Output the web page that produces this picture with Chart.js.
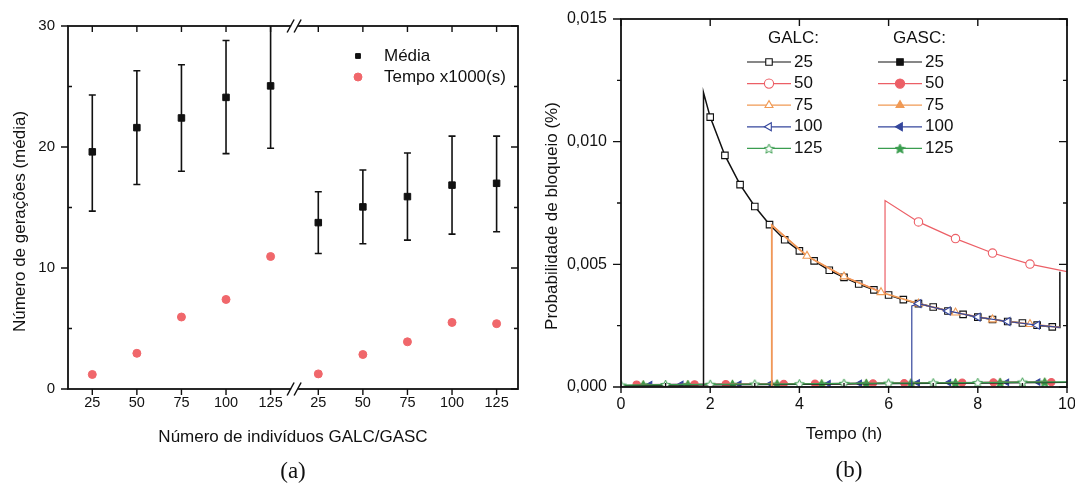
<!DOCTYPE html>
<html lang="pt">
<head>
<meta charset="UTF-8">
<title>GALC / GASC</title>
<script src="https://cdn.jsdelivr.net/npm/chart.js@4.4.1/dist/chart.umd.min.js"></script>
<style>
    body {
        margin: 0;
        width: 1075px;
        height: 486px;
        background: #fff;
        overflow: hidden;
        position: relative;
        font-family: 'Liberation Sans', Arial, sans-serif;
    }
    .panel { position: absolute; top: 0; }
    #boxA { left: 0; }
    #boxB { left: 540px; }
    .tag {
        position: absolute;
        width: 60px;
        text-align: center;
        font-family: 'Liberation Serif', 'Times New Roman', serif;
        font-size: 23px;
        line-height: 26px;
        color: #111;
    }
</style>
</head>
<body>
    <div class="panel" id="boxA"><canvas id="chartA" width="540" height="486"></canvas></div>
    <div class="panel" id="boxB"><canvas id="chartB" width="535" height="486"></canvas></div>
    <div class="tag" style="left:263px; top:458px;">(a)</div>
    <div class="tag" style="left:819px; top:457px;">(b)</div>

<script>
// ---------- painel (a) ----------
const counts = ['25', '50', '75', '100', '125', '25', '50', '75', '100', '125'];
const media = [19.6, 21.6, 22.4, 24.1, 25.05, 13.75, 15.05, 15.9, 16.85, 17.0];
const mediaLow = [14.7, 16.9, 18.0, 19.45, 19.9, 11.2, 12.0, 12.3, 12.8, 13.0];
const mediaHigh = [24.3, 26.3, 26.8, 28.8, 30.6, 16.3, 18.1, 19.5, 20.9, 20.9];
const tempo = [1.2, 2.95, 5.95, 7.4, 10.95, 1.25, 2.85, 3.9, 5.5, 5.4];
const yTicksA = [0, 10, 20, 30];
const yMinorA = [5, 15, 25];

// ---------- painel (b) ----------
const galc25T = [0, 1.85, 1.85, 2.0, 2.33, 2.67, 3.0, 3.33, 3.67, 4.0, 4.33, 4.67, 5.0, 5.33, 5.67, 6.0, 6.33, 6.67, 7.0, 7.33, 7.67, 8.0, 8.33, 8.67, 9.0, 9.33, 9.67, 9.84, 9.84];
const galc25P = [0, 0, 0.0120, 0.0110, 0.00944, 0.00825, 0.00736, 0.00662, 0.0060, 0.00555, 0.00514, 0.00476, 0.00447, 0.0042, 0.00396, 0.00375, 0.00356, 0.0034, 0.00326, 0.0031, 0.00296, 0.00285, 0.00275, 0.00267, 0.00261, 0.00252, 0.00245, 0.00243, 0.0047];
const galc50T = [0, 3.38, 3.38, 4.17, 5.0, 5.92, 5.92, 6.67, 7.5, 8.33, 9.17, 10];
const galc50P = [0, 0, 0.0066, 0.00534, 0.0045, 0.00382, 0.0076, 0.00673, 0.00605, 0.00546, 0.00501, 0.0047];
const galc75T = [0, 3.38, 3.38, 4.17, 5.0, 5.83, 6.67, 7.5, 8.33, 9.17, 9.84];
const galc75P = [0, 0, 0.0066, 0.00534, 0.0045, 0.00386, 0.0034, 0.00303, 0.00275, 0.00256, 0.00243];
const galc100T = [0, 6.52, 6.52, 6.67, 7.33, 8.0, 8.67, 9.33, 9.84];
const galc100P = [0, 0, 0.0033, 0.0034, 0.0031, 0.00285, 0.00267, 0.00252, 0.00243];
const galc125T = [0, 1, 2, 3, 4, 5, 6, 7, 8, 9, 10];
const galc125P = [0.00008, 0.0001, 0.00011, 0.00012, 0.00013, 0.00015, 0.00016, 0.00017, 0.00018, 0.0002, 0.00021];

const gasc25T = [0, 2, 4, 6, 8, 10];
const gasc25P = [0.00006, 0.00009, 0.00011, 0.00014, 0.00016, 0.00019];
const gasc50T = [0.35, 1.65, 2.35, 3.65, 4.35, 5.65, 6.35, 7.65, 8.35, 9.65];
const gasc50P = [0.0001, 0.00011, 0.00012, 0.00013, 0.00014, 0.00015, 0.00016, 0.00018, 0.00019, 0.0002];
const gasc75T = [0.5, 1.5, 2.5, 3.5, 4.5, 5.5, 6.5, 7.5, 8.5, 9.5];
const gasc75P = [0.00009, 0.0001, 0.00011, 0.00012, 0.00013, 0.00015, 0.00016, 0.00017, 0.00019, 0.0002];
const gasc100T = [0.65, 1.35, 2.65, 3.35, 4.65, 5.35, 6.65, 7.35, 8.65, 9.35];
const gasc100P = [0.0001, 0.00011, 0.00012, 0.00013, 0.00014, 0.00015, 0.00017, 0.00018, 0.00019, 0.0002];
const gasc125T = [0.5, 1.5, 2.5, 3.5, 4.5, 5.5, 6.5, 7.5, 8.5, 9.5];
const gasc125P = [0.00009, 0.0001, 0.00011, 0.00012, 0.00013, 0.00015, 0.00016, 0.00017, 0.00019, 0.0002];

const yTicksB = [0, 0.005, 0.010, 0.015];
const yMinorB = [0.0025, 0.0075, 0.0125];
const xTicksB = [0, 2, 4, 6, 8, 10];
const xMinorB = [1, 3, 5, 7, 9];

// posições no eixo x do painel (a): dois grupos separados pela quebra
const xPos = counts.map((c, i) => i < 5 ? i : i + 0.07);
const breakAt = 4.55;

const INK = '#111';
const FONT = "'Liberation Sans', Arial, sans-serif";
const RED = '#ec5f66', ORANGE = '#f09a55', BLUE = '#34469c', GREEN = '#3a9d4f';

Chart.defaults.font.family = FONT;
Chart.defaults.color = INK;

function starImg(filled, color, size) {
    const c = document.createElement('canvas');
    c.width = c.height = size;
    const g = c.getContext('2d');
    const m = size / 2;
    g.beginPath();
    for (let k = 0; k < 10; k++) {
        const r = k % 2 ? m * 0.42 : m * 0.92;
        const a = -Math.PI / 2 + k * Math.PI / 5;
        g.lineTo(m + r * Math.cos(a), m + 0.6 + r * Math.sin(a));
    }
    g.closePath();
    g.fillStyle = filled ? color : '#fff';
    g.fill();
    g.strokeStyle = color;
    g.lineWidth = 1;
    g.stroke();
    return c;
}

// caixa + marcas de escala (len > 0 para fora, < 0 para dentro)
function frameTicks(marks) {
    return {
        id: 'frameTicks',
        afterDraw(chart) {
            const { ctx, chartArea: a } = chart;
            ctx.save();
            ctx.strokeStyle = INK;
            ctx.lineWidth = 1.8;
            ctx.strokeRect(a.left, a.top, a.right - a.left, a.bottom - a.top);
            ctx.lineWidth = 1.4;
            marks.forEach(m => {
                const s = chart.scales[m.scale];
                ctx.beginPath();
                m.values.forEach(v => {
                    const p = s.getPixelForValue(v);
                    if (m.side === 'bottom') { ctx.moveTo(p, a.bottom); ctx.lineTo(p, a.bottom + m.len); }
                    if (m.side === 'top') { ctx.moveTo(p, a.top); ctx.lineTo(p, a.top - m.len); }
                    if (m.side === 'left') { ctx.moveTo(a.left, p); ctx.lineTo(a.left - m.len, p); }
                    if (m.side === 'right') { ctx.moveTo(a.right, p); ctx.lineTo(a.right + m.len, p); }
                });
                ctx.stroke();
            });
            ctx.restore();
        }
    };
}

// título vertical um pouco abaixo do centro, como no original
function yTitle(text, x, shift) {
    return {
        id: 'yTitle',
        afterDraw(chart) {
            const { ctx, chartArea: a } = chart;
            ctx.save();
            ctx.translate(x, (a.top + a.bottom) / 2 + shift);
            ctx.rotate(-Math.PI / 2);
            ctx.font = '17px ' + FONT;
            ctx.fillStyle = INK;
            ctx.textAlign = 'center';
            ctx.textBaseline = 'middle';
            ctx.fillText(text, 0, 0);
            ctx.restore();
        }
    };
}

const errorBars = {
    id: 'errorBars',
    beforeDatasetsDraw(chart) {
        const { ctx, chartArea: a, scales: { x, y } } = chart;
        ctx.save();
        ctx.beginPath();
        ctx.rect(a.left, a.top, a.right - a.left, a.bottom - a.top);
        ctx.clip();
        ctx.strokeStyle = INK;
        ctx.lineWidth = 1.6;
        mediaLow.forEach((lo, i) => {
            const px = x.getPixelForValue(xPos[i]);
            const y0 = y.getPixelForValue(lo);
            const y1 = y.getPixelForValue(mediaHigh[i]);
            ctx.beginPath();
            ctx.moveTo(px, y0); ctx.lineTo(px, y1);
            ctx.moveTo(px - 3.5, y0); ctx.lineTo(px + 3.5, y0);
            ctx.moveTo(px - 3.5, y1); ctx.lineTo(px + 3.5, y1);
            ctx.stroke();
        });
        ctx.restore();
    }
};

const axisBreak = {
    id: 'axisBreak',
    afterDraw(chart) {
        const { ctx, chartArea: a, scales: { x } } = chart;
        const px = x.getPixelForValue(breakAt);
        ctx.save();
        [a.top, a.bottom].forEach(py => {
            ctx.fillStyle = '#fff';
            ctx.fillRect(px - 4, py - 1.5, 7, 3);
            ctx.strokeStyle = INK;
            ctx.lineWidth = 1.5;
            ctx.beginPath();
            ctx.moveTo(px - 8, py + 6.5); ctx.lineTo(px - 1, py - 6.5);
            ctx.moveTo(px - 1, py + 6.5); ctx.lineTo(px + 6, py - 6.5);
            ctx.stroke();
        });
        ctx.restore();
    }
};

const legendA = {
    id: 'legendA',
    afterDraw(chart) {
        const { ctx } = chart;
        ctx.save();
        ctx.font = '17px ' + FONT;
        ctx.textBaseline = 'middle';
        chart.data.datasets.forEach((ds, i) => {
            const y = 56 + i * 21;
            ctx.fillStyle = ds.backgroundColor;
            ctx.strokeStyle = ds.borderColor;
            ctx.lineWidth = 1;
            Chart.helpers.drawPoint(ctx, { pointStyle: ds.pointStyle, rotation: 0, radius: ds.pointStyle === 'rect' ? 3.4 : 4, borderWidth: 1 }, 358, y);
            ctx.fillStyle = INK;
            ctx.fillText(ds.label, 384, y);
        });
        ctx.restore();
    }
};

const legendB = {
    id: 'legendB',
    afterDraw(chart) {
        const { ctx } = chart;
        ctx.save();
        ctx.font = '17px ' + FONT;
        ctx.textBaseline = 'middle';
        ctx.fillStyle = INK;
        ctx.fillText('GALC:', 228, 38);
        ctx.fillText('GASC:', 353, 38);
        chart.data.datasets.forEach((ds, i) => {
            const col = i < 5 ? 0 : 1;
            const row = i % 5;
            const x0 = col ? 338 : 207;
            const y = 62 + row * 21.6;
            ctx.strokeStyle = ds.borderColor;
            ctx.lineWidth = 1.2;
            ctx.beginPath(); ctx.moveTo(x0, y); ctx.lineTo(x0 + 44, y); ctx.stroke();
            ctx.fillStyle = ds.backgroundColor;
            ctx.lineWidth = 1.1;
            Chart.helpers.drawPoint(ctx, { pointStyle: ds.pointStyle, rotation: ds.pointRotation || 0, radius: 4.6, borderWidth: 1.1 }, x0 + 22, y);
            ctx.fillStyle = INK;
            ctx.fillText(ds.label, x0 + 47, y);
        });
        ctx.restore();
    }
};

function pinScale(size, key) {
    return s => {
        s[key] = size;
        s.paddingLeft = 0; s.paddingRight = 0; s.paddingTop = 0; s.paddingBottom = 0;
    };
}

// ---------- gráfico (a) ----------
new Chart(document.getElementById('chartA'), {
    type: 'scatter',
    data: {
        datasets: [{
            label: 'Média',
            data: xPos.map((x, i) => ({ x, y: media[i] })),
            pointStyle: 'rect',
            pointRadius: 4.6,
            backgroundColor: INK,
            borderColor: INK,
            borderWidth: 1
        }, {
            label: 'Tempo x1000(s)',
            data: xPos.map((x, i) => ({ x, y: tempo[i] })),
            pointStyle: 'circle',
            pointRadius: 4,
            backgroundColor: '#f0676b',
            borderColor: '#f0676b',
            borderWidth: 1
        }]
    },
    options: {
        responsive: false,
        animation: false,
        events: [],
        layout: { padding: { top: 26, right: 22, left: 0, bottom: 0 } },
        plugins: { legend: { display: false }, tooltip: { enabled: false } },
        scales: {
            x: {
                type: 'linear',
                min: -0.545,
                max: 9.55,
                afterBuildTicks: s => { s.ticks = xPos.map(v => ({ value: v })); },
                ticks: { callback: (v, i) => counts[i], font: { size: 14.5 }, padding: 5, maxRotation: 0, autoSkip: false },
                grid: { display: false, drawTicks: false },
                border: { display: false },
                title: { display: true, text: 'Número de indivíduos GALC/GASC', font: { size: 17 }, padding: { top: 0, bottom: 38 } },
                afterFit: pinScale(97, 'height')
            },
            y: {
                min: 0,
                max: 30,
                ticks: { stepSize: 10, font: { size: 15 }, padding: 13 },
                grid: { display: false, drawTicks: false },
                border: { display: false },
                afterFit: pinScale(68, 'width')
            }
        }
    },
    plugins: [errorBars, frameTicks([
        { scale: 'x', side: 'bottom', values: xPos, len: 6 },
        { scale: 'x', side: 'top', values: xPos, len: -6 },
        { scale: 'y', side: 'left', values: yTicksA, len: 7 },
        { scale: 'y', side: 'left', values: yMinorA, len: -4 },
        { scale: 'y', side: 'right', values: yTicksA, len: -7 },
        { scale: 'y', side: 'right', values: yMinorA, len: -4 }
    ]), axisBreak, legendA, yTitle('Número de gerações (média)', 20, 14)]
});

// ---------- gráfico (b) ----------
const pts = (T, P) => T.map((t, i) => ({ x: t, y: P[i] }));
const only = (from, to, r) => c => (c.index >= from && c.index <= to ? r : 0);

function series(label, T, P, color, style, opts) {
    return Object.assign({
        label,
        data: pts(T, P),
        borderColor: color,
        backgroundColor: '#fff',
        pointStyle: style,
        pointBorderWidth: 1.1,
        borderWidth: 1.2,
        tension: 0
    }, opts);
}

new Chart(document.getElementById('chartB'), {
    type: 'line',
    data: {
        datasets: [
            series('25', galc25T, galc25P, INK, 'rect', { pointRadius: only(3, 26, 4.6), borderWidth: 1.5, order: 3 }),
            series('50', galc50T, galc50P, RED, 'circle', { pointRadius: only(7, 10, 4.2), order: 2 }),
            series('75', galc75T, galc75P, ORANGE, 'triangle', { pointRadius: only(3, 9, 4.6), borderWidth: 1.7, order: 1 }),
            series('100', galc100T, galc100P, BLUE, 'triangle', { pointRotation: -90, pointRadius: only(3, 7, 4.6), order: 0 }),
            series('125', galc125T, galc125P, GREEN, starImg(false, GREEN, 11), { pointRadius: only(0, 9, 3), order: 4 }),
            series('25', gasc25T, gasc25P, INK, 'rect', { backgroundColor: INK, pointRadius: 0, order: 5 }),
            series('50', gasc50T, gasc50P, RED, 'circle', { backgroundColor: RED, pointRadius: 3.6, order: 6 }),
            series('75', gasc75T, gasc75P, ORANGE, 'triangle', { backgroundColor: ORANGE, pointRadius: 3.6, order: 8 }),
            series('100', gasc100T, gasc100P, BLUE, 'triangle', { backgroundColor: BLUE, pointRotation: -90, pointRadius: 3.6, order: 7 }),
            series('125', gasc125T, gasc125P, GREEN, starImg(true, GREEN, 11), { backgroundColor: GREEN, pointRadius: 3, order: 6 })
        ]
    },
    options: {
        responsive: false,
        animation: false,
        events: [],
        layout: { padding: { top: 19, right: 8, left: 0, bottom: 0 } },
        plugins: { legend: { display: false }, tooltip: { enabled: false } },
        scales: {
            x: {
                type: 'linear',
                min: 0,
                max: 10,
                ticks: { stepSize: 2, font: { size: 16 }, padding: 8, maxRotation: 0 },
                grid: { display: false, drawTicks: false },
                border: { display: false },
                title: { display: true, text: 'Tempo (h)', font: { size: 17 }, padding: { top: 0, bottom: 41 } },
                afterFit: pinScale(99, 'height')
            },
            y: {
                min: 0,
                max: 0.015,
                ticks: { stepSize: 0.005, font: { size: 16 }, padding: 14, callback: v => v.toFixed(3).replace('.', ',') },
                grid: { display: false, drawTicks: false },
                border: { display: false },
                afterFit: pinScale(81, 'width')
            }
        }
    },
    plugins: [frameTicks([
        { scale: 'x', side: 'bottom', values: xTicksB, len: 6 },
        { scale: 'x', side: 'bottom', values: xMinorB, len: -4 },
        { scale: 'x', side: 'top', values: xTicksB, len: -7 },
        { scale: 'y', side: 'left', values: yTicksB, len: 8 },
        { scale: 'y', side: 'left', values: yMinorB, len: 4 },
        { scale: 'y', side: 'right', values: yTicksB, len: -8 },
        { scale: 'y', side: 'right', values: yMinorB, len: -4 }
    ]), legendB, yTitle('Probabilidade de bloqueio (%)', 12, 13)]
});
</script>
</body>
</html>
